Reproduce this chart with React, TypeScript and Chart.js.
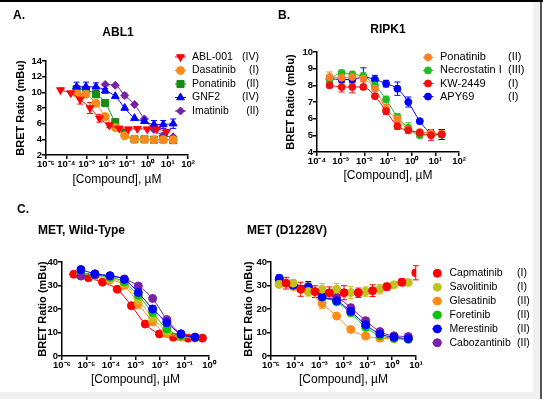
import React, { useEffect, useRef } from "react";
import { Chart, registerables } from "chart.js";
import { drawPoint } from "chart.js/helpers";

Chart.register(...registerables);

const FONT = "'Liberation Sans', Arial, Helvetica, sans-serif";

// ---------------- Panel A : ABL1 ----------------
const ablNames = ["ABL-001", "Dasatinib", "Ponatinib", "GNF2", "Imatinib"];
const ablClasses = ["(IV)", "(I)", "(II)", "(IV)", "(II)"];
const ablConcAbl001 = [5.2e-5, 1.66e-4, 4.8e-4, 1.48e-3, 4.3e-3, 1.32e-2, 4.1e-2, 0.115, 0.32, 0.98, 2.9, 8.9];
const ablConc = [3.2e-4, 9.3e-4, 2.9e-3, 8.3e-3, 2.6e-2, 7.6e-2, 0.23, 0.71, 2.1, 6.0, 18.6];
const ablConcImatinib = [8.3e-3, 2.6e-2, 7.6e-2, 0.23, 0.71, 2.1, 6.0, 18.6];
const ablAbl001 = [10.3, 9.9, 9.1, 8.0, 6.7, 5.8, 5.4, 5.3, 5.35, 5.3, 5.3, 5.0];
const ablAbl001Err = [0, 0, 0.6, 0.7, 0.5, 0.3, 0, 0, 0, 0, 0, 0];
const ablDasatinib = [9.9, 9.75, 8.6, 6.9, 5.5, 4.45, 4.0, 4.0, 3.95, 3.95, 3.95];
const ablDasatinibErr = [0.3, 0.3, 0.3, 0.3, 0.2, 0, 0, 0, 0, 0, 0];
const ablPonatinib = [10.4, 10.3, 9.75, 8.65, 6.2, 4.8, 4.0, 4.0, 3.95, 4.0, 3.9];
const ablPonatinibErr = [0, 0, 0.2, 0.2, 0.3, 0.2, 0, 0, 0, 0, 0];
const ablGnf2 = [10.7, 10.7, 10.7, 10.2, 9.5, 8.0, 6.7, 6.3, 5.9, 5.9, 6.0];
const ablGnf2Err = [0.6, 0.6, 0.5, 0.3, 0, 0, 0, 0.2, 0.5, 0.5, 0.6];
const ablImatinib = [11.0, 10.9, 9.6, 8.45, 6.6, 5.25, 4.5, 4.3];
const ablImatinibErr = [0, 0, 0.3, 0, 0, 0, 0.3, 0.2];
const xTicksA = [1e-5, 1e-4, 1e-3, 1e-2, 1e-1, 1, 10, 100];
const xLabelsA = ["10⁻⁵", "10⁻⁴", "10⁻³", "10⁻²", "10⁻¹", "10⁰", "10¹", "10²"];

// ---------------- Panel B : RIPK1 ----------------
const ripkNames = ["Ponatinib", "Necrostatin I", "KW-2449", "APY69"];
const ripkClasses = ["(II)", "(III)", "(I)", "(I)"];
const ripkConc = [3.4e-4, 1.1e-3, 3.1e-3, 9.1e-3, 2.8e-2, 8.3e-2, 0.25, 0.72, 2.2, 6.6, 18.6];
const ripkPonatinib = [8.5, 8.45, 8.5, 8.4, 7.8, 6.6, 6.0, 5.35, 5.2, 5.15, 5.1];
const ripkPonatinibErr = [0.3, 0.2, 0.35, 0.2, 0.15, 0.25, 0.3, 0.2, 0.15, 0.2, 0.2];
const ripkNecrostatin = [8.35, 8.75, 8.65, 8.55, 8.0, 7.15, 6.1, 5.45, 5.0, 5.05, 5.05];
const ripkNecrostatinErr = [0.2, 0.15, 0.15, 0.2, 0.2, 0.2, 0.2, 0.3, 0.15, 0.2, 0.3];
const ripkKw2449 = [8.0, 7.9, 7.9, 7.9, 7.35, 6.45, 5.55, 5.3, 5.15, 5.0, 5.05];
const ripkKw2449Err = [0.15, 0.3, 0.35, 0.15, 0.15, 0.2, 0.2, 0.15, 0.1, 0.3, 0.3];
const ripkApy69 = [8.4, 8.35, 8.35, 8.5, 8.35, 8.1, 7.8, 7.0, 5.85, 5.15, 5.05];
const ripkApy69Err = [0.2, 0.2, 0.2, 0.55, 0.25, 0.2, 0.4, 0.3, 0.1, 0.2, 0.3];
const xTicksB = [1e-4, 1e-3, 1e-2, 1e-1, 1, 10, 100];
const xLabelsB = ["10⁻⁴", "10⁻³", "10⁻²", "10⁻¹", "10⁰", "10¹", "10²"];

// ---------------- MET compounds (legend for C and D) ----------------
const metNames = ["Capmatinib", "Savolitinib", "Glesatinib", "Foretinib", "Merestinib", "Cabozantinib"];
const metClasses = ["(I)", "(I)", "(II)", "(II)", "(II)", "(II)"];

// ---------------- Panel C : MET wild-type ----------------
const wtConcCap = [3.0e-6, 1.2e-5, 4.5e-5, 1.8e-4, 6.8e-4, 2.5e-3, 9.5e-3, 3.5e-2, 0.14, 0.54];
const wtConc = [5.9e-6, 2.2e-5, 9.1e-5, 3.5e-4, 1.3e-3, 5.0e-3, 1.9e-2, 7.2e-2, 0.27];
const wtCapmatinib = [34.8, 33.3, 31.4, 28.4, 21.4, 13.6, 9.4, 8.0, 7.6, 7.6];
const wtSavolitinib = [35.0, 34.0, 33.0, 30.8, 24.0, 16.3, 10.5, 8.3, 7.8];
const wtGlesatinib = [34.8, 34.0, 32.5, 30.0, 22.3, 14.5, 9.5, 8.0, 7.6];
const wtGlesatinibErr = [0, 0, 0, 0.6, 2.0, 1.5, 0.5, 0, 0];
const wtForetinib = [35.2, 34.5, 33.5, 31.5, 25.8, 18.5, 11.5, 8.6, 7.8];
const wtMerestinib = [36.8, 35.0, 34.2, 32.6, 27.0, 20.0, 14.2, 9.3, 8.0];
const wtMerestinibErr = [1.2, 0.8, 0, 0.6, 1.5, 1.5, 1.3, 0.6, 0];
const wtCabozantinib = [34.0, 34.5, 34.0, 32.8, 29.8, 24.5, 15.5, 9.5, 8.0];
const xTicksC = [1e-6, 1e-5, 1e-4, 1e-3, 1e-2, 1e-1, 1];
const xLabelsC = ["10⁻⁶", "10⁻⁵", "10⁻⁴", "10⁻³", "10⁻²", "10⁻¹", "10⁰"];

// ---------------- Panel D : MET D1228V ----------------
const mutConcCap = [4.2e-5, 1.7e-4, 6.6e-4, 2.6e-3, 1.05e-2, 4.1e-2, 0.16, 0.62, 2.6, 9.8];
const mutConc = [2.2e-5, 8.3e-5, 3.5e-4, 1.3e-3, 5.2e-3, 2.0e-2, 8.3e-2, 0.32, 1.23, 4.8];
const mutCapmatinib = [31.0, 28.4, 27.4, 26.9, 26.9, 26.9, 27.8, 29.5, 31.4, 35.4];
const mutCapmatinibErr = [2.5, 3.0, 2.5, 2.5, 3.0, 2.0, 2.5, 1.5, 1.5, 3.0];
const mutSavolitinib = [30.5, 31.0, 27.5, 28.4, 28.4, 27.0, 27.4, 28.4, 30.3, 31.3];
const mutSavolitinibErr = [0, 1.5, 2.0, 2.5, 2.5, 2.5, 2.0, 2.0, 0.5, 1.0];
const mutGlesatinib = [30.5, 29.5, 27.4, 22.3, 17.0, 11.3, 8.5, 7.6, 7.3, 7.1];
const mutGlesatinibErr = [0, 0, 0, 2.0, 0, 0, 0, 0, 0, 0];
const mutForetinib = [32.5, 30.0, 29.0, 25.0, 23.0, 18.3, 12.2, 8.7, 7.5, 7.1];
const mutForetinibErr = [0, 0, 2.5, 0, 0, 0, 0, 0, 0, 0];
const mutMerestinib = [33.0, 30.2, 29.2, 25.2, 23.5, 19.0, 13.3, 9.4, 8.0, 7.4];
const mutMerestinibErr = [1.5, 1.0, 2.5, 1.5, 1.5, 1.0, 1.0, 0.8, 0.5, 0.5];
const mutCabozantinib = [32.5, 30.5, 29.5, 26.0, 25.0, 20.5, 15.0, 10.4, 8.6, 8.3];
const mutCabozantinibErr = [0, 0, 0, 0, 1.0, 1.5, 1.2, 0.8, 0, 0.8];
const xTicksD = [1e-5, 1e-4, 1e-3, 1e-2, 1e-1, 1, 10];
const xLabelsD = ["10⁻⁵", "10⁻⁴", "10⁻³", "10⁻²", "10⁻¹", "10⁰", "10¹"];

// ---------------- types ----------------
type Series = {
  label: string;
  cls: string;
  conc: number[];
  vals: number[];
  err: number[] | null;
  color: string;
  style: string;
  rotation?: number;
  radius: number;
  line: boolean;
  order: number;
};
type Txt = { text: string; x: number; y: number; size: number; bold: boolean; align: CanvasTextAlign };
type LegendPos = {
  lineL: number; lineR: number; mark: number; textX: number; clsX: number;
  clsAlign: CanvasTextAlign; y0: number; dy: number; size: number;
};
type PanelSpec = {
  left: number; top: number; width: number; height: number;
  area: { l: number; r: number; t: number; b: number };
  xMin: number; xMax: number; xTicks: number[]; xLabels: string[];
  yMin: number; yMax: number; yStep: number;
  yTitleX: number; xTitleY: number;
  series: Series[]; texts: Txt[]; legend: LegendPos | null;
};

const errorBarPlugin = {
  id: "errorBars",
  beforeDatasetsDraw(chart: any) {
    const ctx = chart.ctx;
    const ys = chart.scales.y;
    chart.data.datasets.forEach((ds: any, i: number) => {
      const errs: number[] | null = ds.errors;
      if (!errs) return;
      const meta = chart.getDatasetMeta(i);
      ctx.save();
      ctx.strokeStyle = ds.pointBorderColor;
      ctx.lineWidth = 1;
      meta.data.forEach((el: any, j: number) => {
        const e = errs[j];
        if (!e) return;
        const v = ds.data[j].y;
        const t = ys.getPixelForValue(v + e);
        const b = ys.getPixelForValue(v - e);
        const x = el.x;
        ctx.beginPath();
        ctx.moveTo(x, t); ctx.lineTo(x, b);
        ctx.moveTo(x - 3, t); ctx.lineTo(x + 3, t);
        ctx.moveTo(x - 3, b); ctx.lineTo(x + 3, b);
        ctx.stroke();
      });
      ctx.restore();
    });
  },
};

function decorPlugin(spec: PanelSpec) {
  return {
    id: "decor",
    afterDraw(chart: any) {
      const ctx: CanvasRenderingContext2D = chart.ctx;
      ctx.save();
      ctx.translate(-spec.left, -spec.top);
      ctx.textBaseline = "middle";
      ctx.fillStyle = "#000";
      for (const t of spec.texts) {
        ctx.font = `${t.bold ? "bold " : ""}${t.size}px ${FONT}`;
        ctx.textAlign = t.align;
        ctx.fillText(t.text, t.x, t.y);
      }
      const lg = spec.legend;
      if (lg) {
        spec.series.forEach((s, i) => {
          const y = lg.y0 + i * lg.dy;
          ctx.strokeStyle = s.color;
          ctx.fillStyle = s.color;
          ctx.lineWidth = 1;
          if (s.line) {
            ctx.beginPath();
            ctx.moveTo(lg.lineL, y);
            ctx.lineTo(lg.lineR, y);
            ctx.stroke();
          }
          drawPoint(ctx, { pointStyle: s.style as any, rotation: s.rotation || 0, radius: s.radius, borderWidth: 1 } as any, lg.mark, y);
          ctx.fillStyle = "#000";
          ctx.font = `${lg.size}px ${FONT}`;
          ctx.textAlign = "left";
          ctx.fillText(s.label, lg.textX, y);
          ctx.textAlign = lg.clsAlign;
          ctx.fillText(s.cls, lg.clsX, y);
        });
      }
      ctx.restore();
    },
  };
}

function buildConfig(spec: PanelSpec): any {
  const l = spec.area.l - spec.left;
  const r = spec.area.r - spec.left;
  const t = spec.area.t - spec.top;
  const b = spec.area.b - spec.top;
  const tickFont = { family: FONT, size: 9.5, weight: "bold" };
  const border = { display: true, color: "#000", width: 1.5 };
  const grid = {
    display: true, drawOnChartArea: false, drawTicks: true, tickLength: 4,
    tickWidth: 1.5, color: "#000", lineWidth: 1.5,
  };
  return {
    type: "line",
    data: {
      datasets: spec.series.map((s) => ({
        label: s.label,
        data: s.conc.map((c, i) => ({ x: c, y: s.vals[i] })),
        errors: s.err,
        showLine: s.line,
        borderColor: s.color,
        borderWidth: 1,
        backgroundColor: s.color,
        pointBackgroundColor: s.color,
        pointBorderColor: s.color,
        pointBorderWidth: 1,
        pointStyle: s.style,
        pointRotation: s.rotation || 0,
        pointRadius: s.radius,
        pointHoverRadius: s.radius,
        cubicInterpolationMode: "monotone",
        fill: false,
        order: s.order,
      })),
    },
    options: {
      responsive: false,
      maintainAspectRatio: false,
      animation: false,
      devicePixelRatio: 1,
      events: [],
      layout: { padding: { left: 0, top: t, right: spec.width - r, bottom: 0 } },
      plugins: { legend: { display: false }, tooltip: { enabled: false }, title: { display: false } },
      scales: {
        x: {
          type: "logarithmic",
          min: spec.xMin,
          max: spec.xMax,
          afterBuildTicks: (sc: any) => {
            sc.ticks = spec.xTicks.map((v) => ({ value: v }));
          },
          afterFit: (sc: any) => {
            sc.height = spec.height - b;
          },
          ticks: {
            autoSkip: false, maxRotation: 0, minRotation: 0, padding: 0,
            color: "#000", font: tickFont,
            callback: (_v: any, i: number) => spec.xLabels[i],
          },
          grid,
          border,
          title: {
            display: true,
            text: "[Compound], µM",
            color: "#000",
            font: { family: FONT, size: 12 },
            padding: { top: 0, bottom: spec.top + spec.height - spec.xTitleY - 7.2 },
          },
        },
        y: {
          type: "linear",
          min: spec.yMin,
          max: spec.yMax,
          afterFit: (sc: any) => {
            sc.width = l;
          },
          ticks: { stepSize: spec.yStep, padding: 0, color: "#000", font: tickFont },
          grid,
          border,
          title: {
            display: true,
            text: "BRET Ratio (mBu)",
            color: "#000",
            font: { family: FONT, size: 11, weight: "bold" },
            padding: { top: spec.yTitleX - spec.left - 6.6, bottom: 0 },
          },
        },
      },
    },
    plugins: [errorBarPlugin, decorPlugin(spec)],
  };
}

// ---------------- panel specs ----------------
const RED = "#ff0000";
const ORANGE = "#ff8a1c";
const BLUE = "#0000ff";
const PURPLE = "#7a22a6";

const specA: PanelSpec = {
  left: 0, top: 0, width: 268, height: 196,
  area: { l: 46, r: 188, t: 61, b: 155 },
  xMin: 1e-5, xMax: 100, xTicks: xTicksA, xLabels: xLabelsA,
  yMin: 2, yMax: 14, yStep: 2,
  yTitleX: 21, xTitleY: 180,
  series: [
    { label: ablNames[0], cls: ablClasses[0], conc: ablConcAbl001, vals: ablAbl001, err: ablAbl001Err, color: RED, style: "triangle", rotation: 180, radius: 4.5, line: true, order: 0 },
    { label: ablNames[1], cls: ablClasses[1], conc: ablConc, vals: ablDasatinib, err: ablDasatinibErr, color: ORANGE, style: "circle", radius: 4, line: true, order: 2 },
    { label: ablNames[2], cls: ablClasses[2], conc: ablConc, vals: ablPonatinib, err: ablPonatinibErr, color: "#168c16", style: "rect", radius: 5, line: true, order: 3 },
    { label: ablNames[3], cls: ablClasses[3], conc: ablConc, vals: ablGnf2, err: ablGnf2Err, color: BLUE, style: "triangle", radius: 4.5, line: true, order: 1 },
    { label: ablNames[4], cls: ablClasses[4], conc: ablConcImatinib, vals: ablImatinib, err: ablImatinibErr, color: PURPLE, style: "rectRot", radius: 4, line: true, order: 4 },
  ],
  texts: [
    { text: "A.", x: 13, y: 16, size: 12, bold: true, align: "left" },
    { text: "ABL1", x: 118, y: 33, size: 12, bold: true, align: "center" },
  ],
  legend: { lineL: 175, lineR: 186, mark: 180.5, textX: 192, clsX: 259, clsAlign: "right", y0: 57, dy: 13.5, size: 10.5 },
};

const specB: PanelSpec = {
  left: 270, top: 0, width: 263, height: 196,
  area: { l: 317, r: 459, t: 52, b: 152 },
  xMin: 1e-4, xMax: 100, xTicks: xTicksB, xLabels: xLabelsB,
  yMin: 4, yMax: 10, yStep: 1,
  yTitleX: 291, xTitleY: 176,
  series: [
    { label: ripkNames[0], cls: ripkClasses[0], conc: ripkConc, vals: ripkPonatinib, err: ripkPonatinibErr, color: "#ff7f27", style: "circle", radius: 3.5, line: true, order: 1 },
    { label: ripkNames[1], cls: ripkClasses[1], conc: ripkConc, vals: ripkNecrostatin, err: ripkNecrostatinErr, color: "#22bb22", style: "circle", radius: 3.5, line: true, order: 2 },
    { label: ripkNames[2], cls: ripkClasses[2], conc: ripkConc, vals: ripkKw2449, err: ripkKw2449Err, color: "#f01010", style: "circle", radius: 3.5, line: true, order: 0 },
    { label: ripkNames[3], cls: ripkClasses[3], conc: ripkConc, vals: ripkApy69, err: ripkApy69Err, color: BLUE, style: "circle", radius: 3.5, line: true, order: 3 },
  ],
  texts: [
    { text: "B.", x: 278, y: 16, size: 12, bold: true, align: "left" },
    { text: "RIPK1", x: 388, y: 29.7, size: 12, bold: true, align: "center" },
  ],
  legend: { lineL: 423, lineR: 433.5, mark: 428, textX: 440, clsX: 508, clsAlign: "left", y0: 57.3, dy: 13.1, size: 11 },
};

const OLIVE = "#c2c21e";
const GREEN = "#10c010";
const METORANGE = "#ff8c14";

const specC: PanelSpec = {
  left: 0, top: 196, width: 240, height: 196,
  area: { l: 62, r: 209, t: 262, b: 356 },
  xMin: 1e-6, xMax: 1, xTicks: xTicksC, xLabels: xLabelsC,
  yMin: 0, yMax: 40, yStep: 10,
  yTitleX: 43, xTitleY: 380,
  series: [
    { label: metNames[0], cls: metClasses[0], conc: wtConcCap, vals: wtCapmatinib, err: null, color: RED, style: "circle", radius: 4, line: true, order: 5 },
    { label: metNames[1], cls: metClasses[1], conc: wtConc, vals: wtSavolitinib, err: null, color: OLIVE, style: "circle", radius: 4, line: true, order: 3 },
    { label: metNames[2], cls: metClasses[2], conc: wtConc, vals: wtGlesatinib, err: wtGlesatinibErr, color: METORANGE, style: "circle", radius: 4, line: true, order: 4 },
    { label: metNames[3], cls: metClasses[3], conc: wtConc, vals: wtForetinib, err: null, color: GREEN, style: "circle", radius: 4, line: true, order: 2 },
    { label: metNames[4], cls: metClasses[4], conc: wtConc, vals: wtMerestinib, err: wtMerestinibErr, color: BLUE, style: "circle", radius: 4, line: true, order: 0 },
    { label: metNames[5], cls: metClasses[5], conc: wtConc, vals: wtCabozantinib, err: null, color: PURPLE, style: "circle", radius: 4, line: true, order: 1 },
  ],
  texts: [
    { text: "C.", x: 17, y: 210, size: 12, bold: true, align: "left" },
    { text: "MET, Wild-Type", x: 38, y: 231, size: 12, bold: true, align: "left" },
  ],
  legend: null,
};

const specD: PanelSpec = {
  left: 240, top: 196, width: 293, height: 196,
  area: { l: 271, r: 416, t: 262, b: 356 },
  xMin: 1e-5, xMax: 10, xTicks: xTicksD, xLabels: xLabelsD,
  yMin: 0, yMax: 40, yStep: 10,
  yTitleX: 249, xTitleY: 380,
  series: [
    { label: metNames[0], cls: metClasses[0], conc: mutConcCap, vals: mutCapmatinib, err: mutCapmatinibErr, color: RED, style: "circle", radius: 4, line: false, order: 0 },
    { label: metNames[1], cls: metClasses[1], conc: mutConc, vals: mutSavolitinib, err: mutSavolitinibErr, color: OLIVE, style: "circle", radius: 4, line: false, order: 1 },
    { label: metNames[2], cls: metClasses[2], conc: mutConc, vals: mutGlesatinib, err: mutGlesatinibErr, color: METORANGE, style: "circle", radius: 4, line: true, order: 5 },
    { label: metNames[3], cls: metClasses[3], conc: mutConc, vals: mutForetinib, err: mutForetinibErr, color: GREEN, style: "circle", radius: 4, line: true, order: 4 },
    { label: metNames[4], cls: metClasses[4], conc: mutConc, vals: mutMerestinib, err: mutMerestinibErr, color: BLUE, style: "circle", radius: 4, line: true, order: 2 },
    { label: metNames[5], cls: metClasses[5], conc: mutConc, vals: mutCabozantinib, err: mutCabozantinibErr, color: PURPLE, style: "circle", radius: 4, line: true, order: 3 },
  ],
  texts: [{ text: "MET (D1228V)", x: 247, y: 231, size: 12, bold: true, align: "left" }],
  legend: { lineL: 432, lineR: 442, mark: 437.3, textX: 449.5, clsX: 517, clsAlign: "left", y0: 273.3, dy: 13.9, size: 10.5 },
};

function Panel({ spec }: { spec: PanelSpec }) {
  const ref = useRef<HTMLCanvasElement>(null);
  useEffect(() => {
    const chart = new Chart(ref.current as HTMLCanvasElement, buildConfig(spec));
    return () => chart.destroy();
  }, [spec]);
  return (
    <canvas
      ref={ref}
      width={spec.width}
      height={spec.height}
      style={{ position: "absolute", left: spec.left, top: spec.top, width: spec.width, height: spec.height }}
    />
  );
}

export default function App() {
  return (
    <div style={{ position: "absolute", left: 0, top: 0, width: 543, height: 399, background: "#fff", overflow: "hidden" }}>
      <div style={{ position: "absolute", left: 0, top: 0, width: 543, height: 2, background: "#000" }} />
      <div style={{ position: "absolute", left: 533, top: 2, width: 7, height: 397, background: "#f0f0f0" }} />
      <div style={{ position: "absolute", left: 540, top: 2, width: 2, height: 397, background: "#555" }} />
      <div style={{ position: "absolute", left: 0, top: 392, width: 533, height: 7, background: "#f0f0f0" }} />
      <Panel spec={specA} />
      <Panel spec={specB} />
      <Panel spec={specC} />
      <Panel spec={specD} />
    </div>
  );
}
